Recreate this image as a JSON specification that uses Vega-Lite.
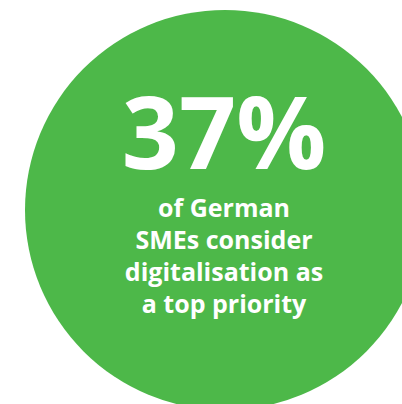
{
  "$schema": "https://vega.github.io/schema/vega-lite/v6.json",
  "width": 402,
  "height": 404,
  "autosize": {"type": "fit", "contains": "padding"},
  "padding": {"left": 48, "right": 0, "top": 16, "bottom": 0},
  "background": "white",
  "view": {"stroke": null},
  "config": {"font": "Open Sans"},
  "layer": [
    {
      "data": {"values": [{"share": 37}]},
      "mark": {"type": "point", "shape": "circle", "filled": true, "size": 160000, "color": "#4db849", "opacity": 1},
      "encoding": {}
    },
    {
      "data": {"values": [{"label": "37%"}]},
      "mark": {"type": "text", "font": "Open Sans", "fontWeight": "bold", "fontSize": 100, "color": "white", "align": "center", "baseline": "alphabetic", "dy": -41, "dx": -1},
      "encoding": {"text": {"field": "label", "type": "nominal"}}
    },
    {
      "data": {"values": [
        {"line": 1, "label": "of German"},
        {"line": 2, "label": "SMEs consider"},
        {"line": 3, "label": "digitalisation as"},
        {"line": 4, "label": "a top priority"}
      ]},
      "mark": {"type": "text", "font": "Open Sans", "fontWeight": "bold", "fontSize": 25, "letterSpacing": 0.8, "color": "white", "align": "center", "baseline": "alphabetic", "dx": -1},
      "encoding": {
        "y": {"field": "line", "type": "ordinal", "scale": {"type": "point", "range": [201, 297], "padding": 0}, "axis": null},
        "text": {"field": "label", "type": "nominal"}
      }
    }
  ]
}
